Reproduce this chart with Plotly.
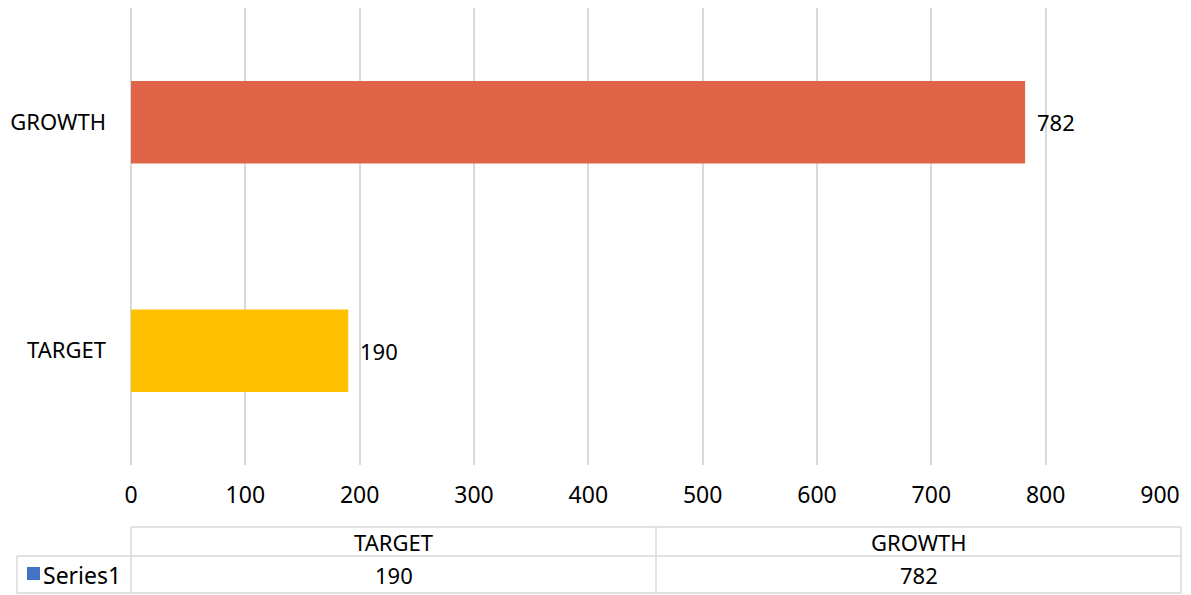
import plotly.graph_objects as go

categories = ["TARGET", "GROWTH"]
values = [190, 782]
bar_colors = ["#FFC000", "#E06548"]
series_name = "Series1"
x_ticks = [0, 100, 200, 300, 400, 500, 600, 700, 800, 900]

# the page body adds an 8px margin; lay out in reference pixel coords, shifted
OFF = 8
W, H = 1191 - OFF, 595 - OFF
ML, MT = 131 - OFF, 8 - OFF
MR = W - (1160 - OFF)
MB = H - (465 - OFF)
PW = W - ML - MR
PH = H - MT - MB
FONT = "Noto Sans"
GRID = "#D9D9D9"

def px(x):
    return (x - OFF - ML) / PW

def py(y):
    return (H - MB - (y - OFF)) / PH

fig = go.Figure()
fig.add_trace(go.Bar(
    y=categories, x=values, orientation="h",
    marker=dict(color=bar_colors, line=dict(width=0)),
    name=series_name, showlegend=False, hoverinfo="x+y",
))

annotations = []
# value labels next to the bars
for cat, v in zip(categories, values):
    annotations.append(dict(x=v, y=cat, xref="x", yref="y", text=str(v),
                            showarrow=False, xanchor="left", yanchor="middle",
                            xshift=10,
                            font=dict(size=22, color="#000000", family=FONT)))

# data table
shapes = []
line = dict(color=GRID, width=1.5)
top, mid, bot = 527, 556, 593
left_tab, c0, c1, c2 = 17, 131, 656, 1181
for (x0, y0, x1, y1) in [
    (c0, top, c2, top), (left_tab, mid, c2, mid), (left_tab, bot, c2, bot),
    (c0, top, c0, bot), (c1, top, c1, bot), (c2, top, c2, bot),
    (left_tab, mid, left_tab, bot),
]:
    shapes.append(dict(type="line", xref="paper", yref="paper",
                       x0=px(x0), y0=py(y0), x1=px(x1), y1=py(y1), line=line))
# legend key
shapes.append(dict(type="rect", xref="paper", yref="paper",
                   x0=px(27), x1=px(40), y0=py(580), y1=py(567),
                   fillcolor="#4472C4", line=dict(width=0)))

cols = [(c0, c1), (c1, c2)]
for (a, b), cat, v in zip(cols, categories, values):
    xc = px((a + b) / 2)
    annotations.append(dict(x=xc, y=py((top + mid) / 2), xref="paper", yref="paper",
                            text=cat, showarrow=False, xanchor="center", yanchor="middle",
                            font=dict(size=22, color="#000000", family=FONT)))
    annotations.append(dict(x=xc, y=py((mid + bot) / 2), xref="paper", yref="paper",
                            text=str(v), showarrow=False, xanchor="center", yanchor="middle",
                            font=dict(size=22, color="#000000", family=FONT)))
annotations.append(dict(x=px(41), y=py((mid + bot) / 2), xref="paper", yref="paper",
                        text=series_name, showarrow=False, xanchor="left", yanchor="middle",
                        font=dict(size=23, color="#000000", family=FONT)))

fig.update_layout(
    width=W, height=H,
    margin=dict(l=ML, r=MR, t=MT, b=MB, autoexpand=False),
    paper_bgcolor="white", plot_bgcolor="white",
    bargap=0.64,
    font=dict(family=FONT, size=22, color="#000000"),
    xaxis=dict(range=[0, 900], tickvals=x_ticks, showgrid=True, gridcolor=GRID,
               gridwidth=1.5, zeroline=True, zerolinecolor=GRID, zerolinewidth=1.5,
               showline=False, ticks="", ticklabelstandoff=14, automargin=False,
               tickfont=dict(size=23, family=FONT, color="#000000")),
    yaxis=dict(categoryorder="array", categoryarray=categories, showgrid=False,
               showline=False, ticks="", ticklabelstandoff=24, automargin=False,
               tickfont=dict(size=22, family=FONT, color="#000000")),
    shapes=shapes, annotations=annotations,
)

fig.write_html("out.html")
